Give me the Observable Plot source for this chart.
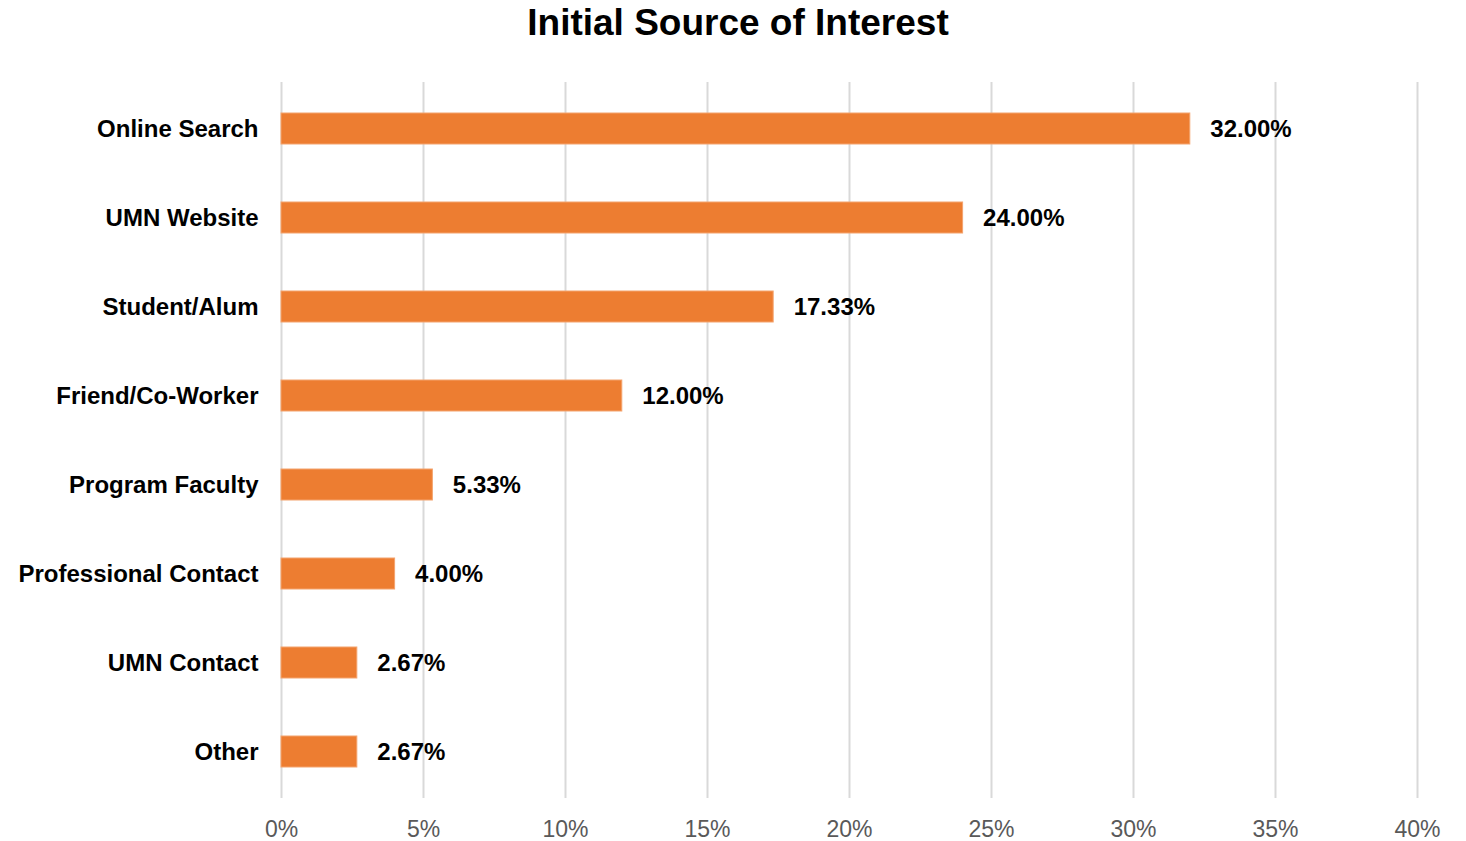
<!DOCTYPE html>
<html>
<head>
<meta charset="utf-8">
<script src="https://cdn.jsdelivr.net/npm/d3@7"></script>
<script src="https://cdn.jsdelivr.net/npm/@observablehq/plot@0.6"></script>
<style>
  html, body { margin: 0; padding: 0; background: #fff; }
  body { width: 1466px; height: 841px; overflow: hidden; font-family: "Liberation Sans", Arial, Helvetica, sans-serif; }
  #title { height: 48px; line-height: 46px; text-align: center; font-size: 37px; font-weight: bold; color: #000; padding-left: 10px; }
</style>
</head>
<body>
<div id="title">Initial Source of Interest</div>
<div id="chart"></div>
<script>
const categories = ["Online Search", "UMN Website", "Student/Alum", "Friend/Co-Worker", "Program Faculty", "Professional Contact", "UMN Contact", "Other"];
const values = [32.00, 24.00, 17.33, 12.00, 5.33, 4.00, 2.67, 2.67];
const xTicks = [0, 5, 10, 15, 20, 25, 30, 35, 40];

const data = categories.map((c, i) => ({category: c, value: values[i]}));

const chart = Plot.plot({
  width: 1466,
  height: 793,
  marginLeft: 281,
  marginRight: 49,
  marginTop: 34,
  marginBottom: 43,
  style: {fontFamily: '"Liberation Sans", Arial, Helvetica, sans-serif', background: "#fff", overflow: "visible"},
  x: {domain: [0, 40], ticks: xTicks, tickFormat: d => d + "%"},
  y: {domain: categories, paddingInner: 0.65, paddingOuter: 0.34},
  marks: [
    Plot.gridX(xTicks, {stroke: "#d9d9d9", strokeOpacity: 1, strokeWidth: 2}),
    Plot.barX(data, {x: "value", y: "category", fill: "#ed7d31", stroke: "#f4a46e", strokeWidth: 1}),
    Plot.text(data, {x: "value", y: "category", text: d => d.value.toFixed(2) + "%", textAnchor: "start", dx: 20, fontSize: 24, fontWeight: "bold", fill: "#000"}),
    Plot.axisX(xTicks, {tickSize: 0, tickPadding: 22, fontSize: 23, color: "#595959", tickFormat: d => d + "%", label: null}),
    Plot.axisY({tickSize: 0, tickPadding: 23, fontSize: 24, fontWeight: "bold", color: "#000", label: null})
  ]
});
document.getElementById("chart").appendChild(chart);
</script>
</body>
</html>
